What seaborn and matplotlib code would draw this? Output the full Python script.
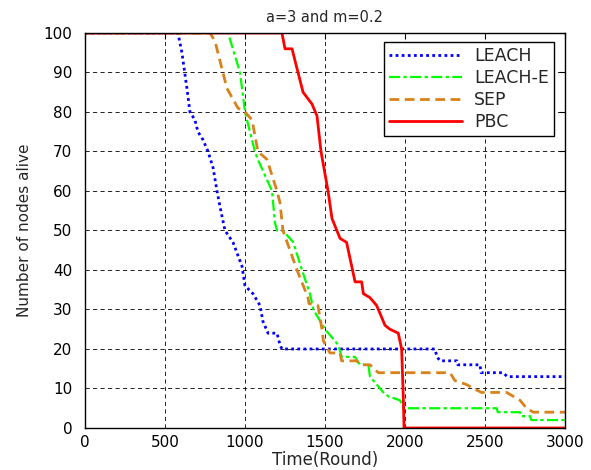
import numpy as np
import pandas as pd
import matplotlib
matplotlib.use('Agg')
import matplotlib.pyplot as plt
import seaborn as sns

# ---- data ----
leach_x = [0, 581, 606, 637, 656, 687, 706, 737, 769, 800, 825, 844, 875, 925, 981, 1000, 1050,
           1094, 1112, 1144, 1200, 1219, 1231, 2187, 2200, 2219, 2325, 2330, 2469, 2475, 2612, 2640, 3000]
leach_y = [100, 100, 95, 86, 80, 78, 75, 73, 70, 66, 60, 56, 50, 47, 41, 36, 34,
           31, 27, 24, 24, 21, 20, 20, 18, 17, 17, 16, 16, 14, 14, 13, 13]

leache_x = [0, 894, 969, 1000, 1062, 1080, 1169, 1187, 1200, 1237, 1302, 1356, 1406, 1427, 1500, 1542,
            1583, 1604, 1687, 1719, 1771, 1781, 1844, 1865, 1896, 1969, 1990, 2573, 2580, 2719, 2725,
            2781, 2790, 3000]
leache_y = [100, 100, 90, 80, 70, 68, 60, 52, 50, 50, 47, 40, 34, 30, 25, 23,
            21, 18, 18, 16, 16, 13, 10, 9, 8, 7, 5, 5, 4, 4, 3,
            3, 2, 2]

sep_x = [0, 781, 812, 862, 887, 956, 1000, 1044, 1081, 1137, 1200, 1219, 1237, 1281, 1325, 1394, 1400,
         1456, 1481, 1490, 1531, 1594, 1604, 1698, 1719, 1781, 1833, 2281, 2312, 2385, 2427, 2479,
         2635, 2677, 2719, 2760, 2802, 3000]
sep_y = [100, 100, 98, 90, 86, 81, 80, 78, 70, 68, 60, 57, 50, 45, 40, 33, 31.5,
         31, 25, 22, 19, 19, 17, 17, 16, 16, 14, 14, 12, 11, 10, 9,
         9, 8, 7, 5, 4, 4]

pbc_x = [0, 1231, 1250, 1294, 1325, 1363, 1419, 1450, 1475, 1519, 1544, 1594, 1635, 1656, 1688, 1729,
         1740, 1781, 1823, 1875, 1906, 1958, 1979, 1990, 1994, 3000]
pbc_y = [100, 100, 96, 96, 91, 85, 82, 79, 70, 60, 53, 48, 47, 43, 37, 37,
         34, 33, 31, 26, 25, 24, 20, 7, 0, 0]

series = [
    ('LEACH', leach_x, leach_y, '#0000ff', (0, (1, 1.2)), 2.0),
    ('LEACH-E', leache_x, leache_y, '#00ff00', (0, (5, 1.5, 1.5, 1.5)), 1.6),
    ('SEP', sep_x, sep_y, '#d9821c', (0, (3.5, 2)), 2.0),
    ('PBC', pbc_x, pbc_y, '#ff0000', '-', 2.0),
]

# ---- plot ----
sns.set_style('white')
plt.rcParams['font.family'] = ['DejaVu Sans']

fig = plt.figure(figsize=(5.91, 4.70), dpi=100)
ax = fig.add_axes([0.1438, 0.0894, 0.8122, 0.8404])

for name, xs, ys, col, ls, lw in series:
    df = pd.DataFrame({'round': xs, 'alive': ys})
    sns.lineplot(data=df, x='round', y='alive', estimator=None, sort=False, ax=ax,
                 color=col, linestyle=ls, linewidth=lw, label=name)

ax.set_xlim(0, 3000)
ax.set_ylim(0, 100)
ax.set_xticks(np.arange(0, 3001, 500))
ax.set_yticks(np.arange(0, 101, 10))
ax.grid(True, color='black', linestyle=(0, (5, 4)), linewidth=0.6)
for s in ax.spines.values():
    s.set_color('black')
    s.set_linewidth(1.0)
ax.tick_params(direction='in', length=4, width=0.8, top=True, right=True, labelsize=11, colors='black')
ax.tick_params(axis='x', pad=5)
ax.tick_params(axis='y', pad=9)

ax.set_title('a=3 and m=0.2', fontsize=10.5, pad=8)
ax.set_xlabel('Time(Round)', fontsize=12, labelpad=1)
ax.set_ylabel('Number of nodes alive', fontsize=11, labelpad=8)

leg = ax.legend(loc='upper right', bbox_to_anchor=(0.977, 0.977), fontsize=12.5, frameon=True,
                fancybox=False, handlelength=4.2, labelspacing=0.22, borderpad=0.3,
                handletextpad=0.7, borderaxespad=0, framealpha=1, edgecolor='black')
leg.get_frame().set_linewidth(1.0)

fig.savefig('out.png', dpi=100)
